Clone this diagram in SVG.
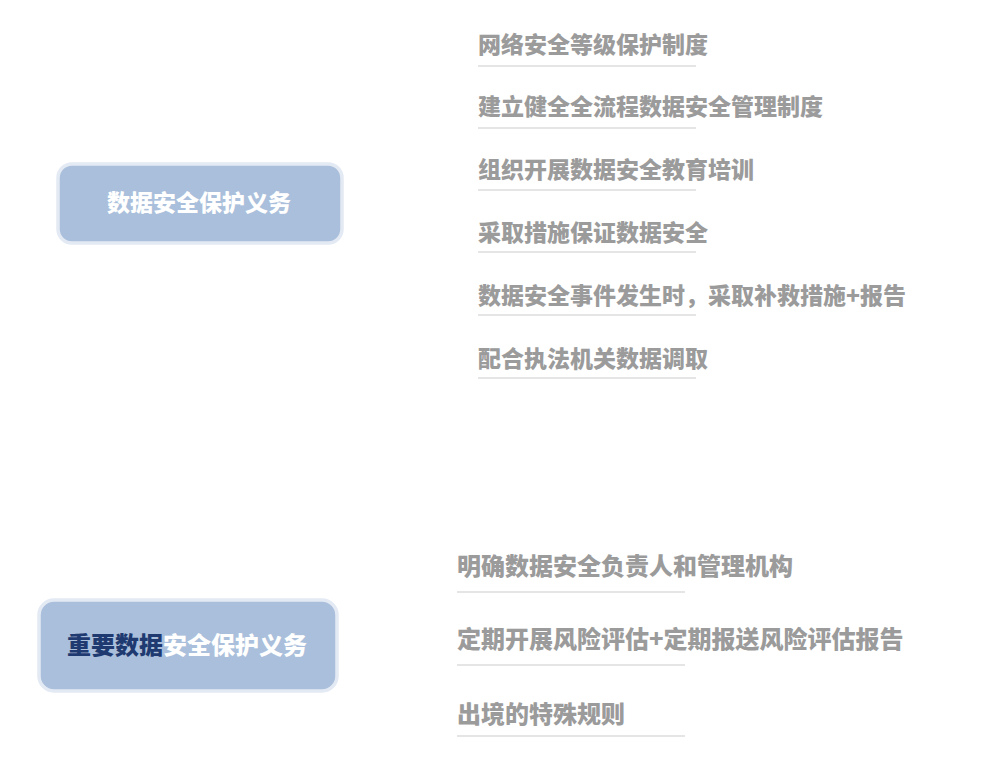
<svg xmlns="http://www.w3.org/2000/svg" width="984" height="768" viewBox="0 0 984 768">
<style>
.box{fill:#aabfdb;stroke:#e3eaf4;stroke-width:3.5}
.t{font-family:"Noto Sans CJK SC","Noto Sans",sans-serif;font-weight:900}
.title{fill:#ffffff}
.dark{fill:#1e3a70}
.item{fill:#9b9b9b}
.ul{stroke:#dcdcdc;stroke-width:1.6}
</style>
<rect width="984" height="768" fill="#ffffff"/>
<g id="connectors"></g>
<g id="node-main1">
<rect class="box" x="58" y="164" width="284" height="79" rx="14"/>
<text class="t title" x="199" y="211" font-size="23" text-anchor="middle">数据安全保护义务</text>
</g>
<g id="node-main2">
<rect class="box" x="39" y="600" width="298" height="91" rx="15"/>
<text class="t" x="187" y="654" font-size="24" text-anchor="middle"><tspan class="dark">重要数据</tspan><tspan class="title">安全保护义务</tspan></text>
</g>
<g id="item1-1"><text class="t item" x="478" y="53" font-size="23">网络安全等级保护制度</text><line class="ul" x1="478" y1="66" x2="696" y2="66"/></g>
<g id="item1-2"><text class="t item" x="478" y="115" font-size="23">建立健全全流程数据安全管理制度</text><line class="ul" x1="478" y1="128" x2="696" y2="128"/></g>
<g id="item1-3"><text class="t item" x="478" y="178" font-size="23">组织开展数据安全教育培训</text><line class="ul" x1="478" y1="190" x2="696" y2="190"/></g>
<g id="item1-4"><text class="t item" x="478" y="241" font-size="23">采取措施保证数据安全</text><line class="ul" x1="478" y1="252" x2="696" y2="252"/></g>
<g id="item1-5"><text class="t item" x="478" y="304" font-size="23">数据安全事件发生时，采取补救措施+报告</text><line class="ul" x1="478" y1="315" x2="696" y2="315"/></g>
<g id="item1-6"><text class="t item" x="478" y="367" font-size="23">配合执法机关数据调取</text><line class="ul" x1="478" y1="378" x2="696" y2="378"/></g>
<g id="item2-1"><text class="t item" x="457" y="575" font-size="24">明确数据安全负责人和管理机构</text><line class="ul" x1="457" y1="592" x2="685" y2="592"/></g>
<g id="item2-2"><text class="t item" x="457" y="648" font-size="24">定期开展风险评估+定期报送风险评估报告</text><line class="ul" x1="457" y1="665" x2="685" y2="665"/></g>
<g id="item2-3"><text class="t item" x="457" y="723" font-size="24">出境的特殊规则</text><line class="ul" x1="457" y1="736" x2="685" y2="736"/></g>
</svg>
